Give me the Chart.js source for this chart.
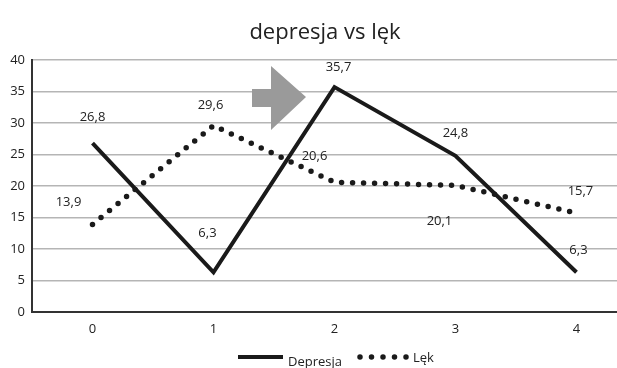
<!DOCTYPE html>
<html>
<head>
<meta charset="utf-8">
<script src="https://cdn.jsdelivr.net/npm/chart.js@4.4.1/dist/chart.umd.min.js"></script>
<style>
  html, body { margin: 0; padding: 0; background: #fff; }
  #wrap { width: 617px; height: 368px; position: relative; }
</style>
</head>
<body>
<div id="wrap"><canvas id="c" width="617" height="368"></canvas></div>
<script>
// Measurement points on the horizontal axis
const categories = [0, 1, 2, 3, 4];
// Series values
const depresja = [26.8, 6.3, 35.7, 24.8, 6.3];
const lek = [13.9, 29.6, 20.6, 20.1, 15.7];
// Axis ticks
const yTicks = [0, 5, 10, 15, 20, 25, 30, 35, 40];
const xTicks = [0, 1, 2, 3, 4];
const titleText = 'depresja vs lęk';
const seriesNames = ['Depresja', 'Lęk'];

const FONT = '"Open Sans", "Noto Sans", sans-serif';
const fmt = v => String(v).replace('.', ',');

// Value label placement (offset from the point, in px) per series
const labelOffsets = [
  [[0, -26], [-6, -39], [4, -20], [0, -22], [2, -22]],
  [[-24, -22], [-3, -20], [-20, -26], [-16, 36], [4, -22]]
];

// Decorations: title, legend, block arrow, value labels
const decorations = {
  id: 'decorations',
  beforeDatasetsDraw(chart) {
    const ctx = chart.ctx;
    ctx.save();
    // grey block arrow above the second interval
    ctx.fillStyle = '#9a9a9a';
    ctx.beginPath();
    ctx.moveTo(252, 89);
    ctx.lineTo(271, 89);
    ctx.lineTo(271, 66);
    ctx.lineTo(306, 97);
    ctx.lineTo(271, 130);
    ctx.lineTo(271, 107);
    ctx.lineTo(252, 107);
    ctx.closePath();
    ctx.fill();
    ctx.restore();
  },
  afterDatasetsDraw(chart) {
    const ctx = chart.ctx;
    ctx.save();
    // value labels
    ctx.font = '13px ' + FONT;
    ctx.fillStyle = '#222';
    ctx.textAlign = 'center';
    ctx.textBaseline = 'middle';
    chart.data.datasets.forEach((ds, i) => {
      const meta = chart.getDatasetMeta(i);
      meta.data.forEach((pt, j) => {
        const off = labelOffsets[i][j];
        ctx.fillText(fmt(ds.data[j].y), pt.x + off[0], pt.y + off[1]);
      });
    });
    ctx.restore();
  },
  afterDraw(chart) {
    const ctx = chart.ctx;
    ctx.save();
    // title
    ctx.font = '22px ' + FONT;
    ctx.fillStyle = '#222';
    ctx.textAlign = 'center';
    ctx.textBaseline = 'middle';
    ctx.fillText(titleText, 325, 33);
    // legend
    const ly = 357;
    ctx.font = '13px ' + FONT;
    ctx.textAlign = 'left';
    ctx.textBaseline = 'alphabetic';
    ctx.strokeStyle = '#1a1a1a';
    ctx.lineWidth = 4;
    ctx.beginPath();
    ctx.moveTo(238, ly);
    ctx.lineTo(283, ly);
    ctx.stroke();
    ctx.fillText(seriesNames[0], 288, 366);
    ctx.lineCap = 'round';
    ctx.lineWidth = 5.5;
    ctx.setLineDash([0, 11.5]);
    ctx.beginPath();
    ctx.moveTo(360, ly);
    ctx.lineTo(407, ly);
    ctx.stroke();
    ctx.setLineDash([]);
    ctx.fillText(seriesNames[1], 413, 362);
    ctx.restore();
  }
};

new Chart(document.getElementById('c'), {
  type: 'line',
  data: {
    datasets: [
      {
        label: seriesNames[0],
        data: categories.map((c, i) => ({ x: c, y: depresja[i] })),
        borderColor: '#1a1a1a',
        borderWidth: 4,
        pointRadius: 0,
        tension: 0,
        fill: false
      },
      {
        label: seriesNames[1],
        data: categories.map((c, i) => ({ x: c, y: lek[i] })),
        borderColor: '#1a1a1a',
        borderWidth: 5.5,
        borderDash: [0, 11],
        borderCapStyle: 'round',
        pointRadius: 0,
        tension: 0,
        fill: false
      }
    ]
  },
  options: {
    responsive: false,
    animation: false,
    events: [],
    layout: { padding: { top: 60, right: 0, bottom: 0, left: 0 } },
    plugins: {
      legend: { display: false },
      title: { display: false },
      tooltip: { enabled: false }
    },
    scales: {
      x: {
        type: 'linear',
        min: -0.5,
        max: 4.335,
        afterBuildTicks(s) { s.ticks = xTicks.map(v => ({ value: v })); },
        afterFit(s) { s.height = 56; },
        grid: { display: false, drawTicks: false },
        border: { display: true, color: '#333', width: 2 },
        ticks: {
          color: '#222',
          padding: 9,
          font: { family: FONT, size: 13 },
          callback: v => String(v)
        }
      },
      y: {
        min: 0,
        max: 40,
        afterBuildTicks(s) { s.ticks = yTicks.map(v => ({ value: v })); },
        afterFit(s) { s.width = 32; },
        grid: { color: '#b5b5b5', lineWidth: 1.6, drawTicks: false },
        border: { display: true, color: '#333', width: 2 },
        ticks: {
          color: '#222',
          padding: 7,
          font: { family: FONT, size: 13 },
          callback: v => String(v)
        }
      }
    }
  },
  plugins: [decorations]
});
</script>
</body>
</html>
